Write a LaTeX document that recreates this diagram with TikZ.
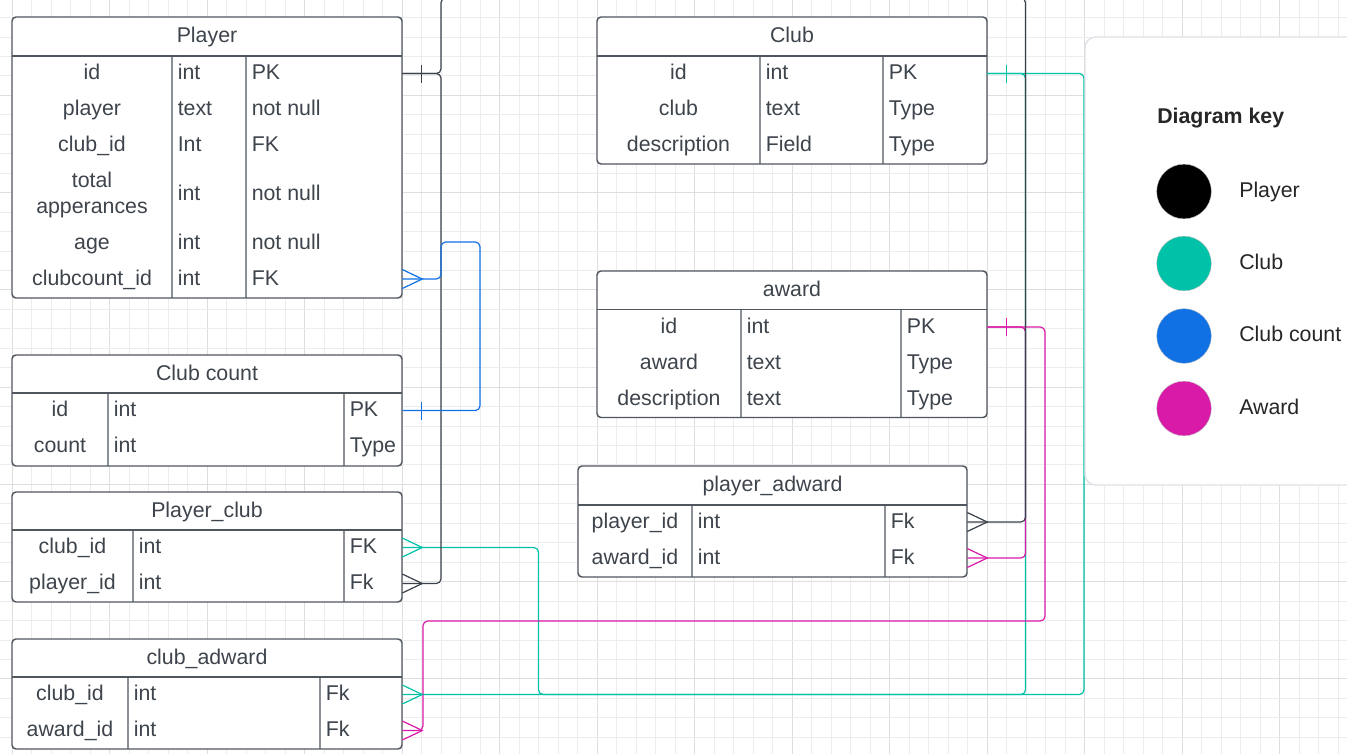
\documentclass[tikz,border=0pt]{standalone}
\usepackage{fontspec}
\setmainfont{Liberation Sans}
\usetikzlibrary{fit}
\definecolor{tealc}{RGB}{0,194,168}
\definecolor{bluec}{RGB}{16,113,229}
\definecolor{magc}{RGB}{217,26,168}
\definecolor{inkc}{RGB}{58,65,74}
\definecolor{txtc}{RGB}{62,68,76}
\definecolor{bordc}{RGB}{80,86,94}
\definecolor{colc}{RGB}{140,145,152}
\definecolor{gridmin}{RGB}{236,236,236}
\definecolor{gridmaj}{RGB}{222,222,222}
\definecolor{panelb}{RGB}{222,226,231}
\definecolor{keytxt}{RGB}{38,38,38}
\tikzset{
  cell/.style={inner sep=0pt, text height=11.5pt, text depth=2.5pt, text=txtc, font=\fontsize{16}{19.5}\selectfont},
  tbl/.style={draw=bordc, line width=1.1pt, rounded corners=3pt},
  colline/.style={draw=colc, line width=1.1pt},
  conn/.style={line width=0.9pt, rounded corners=3.5pt},
  tip/.style={line width=0.9pt},
  keylabel/.style={anchor=base west, inner sep=0pt, text=keytxt, font=\fontsize{16}{19.5}\selectfont},
  keydot/.style={circle, minimum size=41pt, inner sep=0pt, draw=black!25, line width=0.3pt},
}
\newcommand\ertable[9]{%
  \fill[white, rounded corners=3pt] (#2,#3) rectangle (#4,#5);
  \draw[colline] (#7,#6) -- (#7,#5);
  \draw[colline] (#8,#6) -- (#8,#5);
  \draw[tbl] (#2,#3) rectangle (#4,#5);
  \draw[bordc, line width=1.1pt] (#2,#6) -- (#4,#6);
  \node[fit={(#2,#3)(#4,#5)}, inner sep=0pt] (#1) {};
  \node[cell] (#1-t) at ({(#2+#4)/2},{(#3+#6)/2}) {#9};
}
\newcommand\errow[8]{%
  \node[cell] (#1) at (#3,#2) {#6};
  \node[cell, anchor=west] (#1-b) at ({#4+5.5},#2) {#7};
  \node[cell, anchor=west] (#1-c) at ({#5+5.5},#2) {#8};
}
\newcommand\crowR[2]{\draw[tip, #2] (#1) ++(0,-9.5) -- ++(20,9.5) -- ++(-20,9.5);}
\newcommand\oneR[2]{\draw[tip, #2] (#1) ++(19.5,-9) -- ++(0,18);}
\begin{document}
\begin{tikzpicture}[x=0.75pt,y=-0.75pt]
\useasboundingbox (0,0) rectangle (1347,754);
\clip (0,0) rectangle (1347,754);
\fill[white] (0,0) rectangle (1347,754);
% grid
\foreach \k in {0,...,68}{%
  \pgfmathsetmacro\gx{12.3+19.5*\k}%
  \pgfmathtruncatemacro\gm{mod(\k,5)}%
  \ifnum\gm=0 \draw[gridmaj, line width=0.75pt] (\gx,0) -- (\gx,754);
  \else \draw[gridmin, line width=0.75pt] (\gx,0) -- (\gx,754); \fi
}
\foreach \k in {0,...,37}{%
  \pgfmathsetmacro\gy{17.6+19.45*\k}%
  \pgfmathtruncatemacro\gm{mod(\k,5)}%
  \ifnum\gm=4 \draw[gridmaj, line width=0.75pt] (0,\gy) -- (1347,\gy);
  \else \draw[gridmin, line width=0.75pt] (0,\gy) -- (1347,\gy); \fi
}

% tables
\ertable{player}{12}{17}{402}{298}{56}{172}{246}{Player}
\errow{player-r1}{73.5}{92}{172}{246}{id}{int}{PK}
\errow{player-r2}{109.5}{92}{172}{246}{player}{text}{not null}
\errow{player-r3}{145.5}{92}{172}{246}{club\_id}{Int}{FK}
\node[inner sep=0pt, align=center, text=txtc, font=\fontsize{16}{19.5}\selectfont] (player-r4) at (92,194.5) {total\\apperances};
\node[cell, anchor=west] (player-r4-b) at (177.5,194.5) {int};
\node[cell, anchor=west] (player-r4-c) at (251.5,194.5) {not null};
\errow{player-r5}{243}{92}{172}{246}{age}{int}{not null}
\errow{player-r6}{279}{92}{172}{246}{clubcount\_id}{int}{FK}

\ertable{club}{597}{17}{987}{164}{56}{760}{883}{Club}
\errow{club-r1}{73.5}{678.5}{760}{883}{id}{int}{PK}
\errow{club-r2}{109.5}{678.5}{760}{883}{club}{text}{Type}
\errow{club-r3}{145.5}{678.5}{760}{883}{description}{Field}{Type}

\ertable{award}{597}{271}{987}{417.5}{309.5}{741}{901}{award}
\errow{award-r1}{327}{669}{741}{901}{id}{int}{PK}
\errow{award-r2}{363}{669}{741}{901}{award}{text}{Type}
\errow{award-r3}{399}{669}{741}{901}{description}{text}{Type}

\ertable{ccount}{12}{355}{402}{466}{393}{108}{344}{Club count}
\errow{ccount-r1}{410.5}{60}{108}{344}{id}{int}{PK}
\errow{ccount-r2}{446.5}{60}{108}{344}{count}{int}{Type}

\ertable{pclub}{12}{492}{402}{602}{530}{133}{344}{Player\_club}
\errow{pclub-r1}{547.5}{72.5}{133}{344}{club\_id}{int}{FK}
\errow{pclub-r2}{583.5}{72.5}{133}{344}{player\_id}{int}{Fk}

\ertable{cadw}{12}{639}{402}{749}{677}{128}{320}{club\_adward}
\errow{cadw-r1}{694.5}{70}{128}{320}{club\_id}{int}{Fk}
\errow{cadw-r2}{730.5}{70}{128}{320}{award\_id}{int}{Fk}

\ertable{padw}{578}{466}{967}{577}{505}{692}{885}{player\_adward}
\errow{padw-r1}{522}{635}{692}{885}{player\_id}{int}{Fk}
\errow{padw-r2}{558}{635}{692}{885}{award\_id}{int}{Fk}

% connector end points
\coordinate (e-pid) at (player.east |- player-r1);
\coordinate (e-pcc) at (player.east |- player-r6);
\coordinate (e-club1) at (club.east |- club-r1);
\coordinate (e-aw1) at (award.east |- award-r1);
\coordinate (e-cc1) at (ccount.east |- ccount-r1);
\coordinate (e-pc1) at (pclub.east |- pclub-r1);
\coordinate (e-pc2) at (pclub.east |- pclub-r2);
\coordinate (e-ca1) at (cadw.east |- cadw-r1);
\coordinate (e-ca2) at (cadw.east |- cadw-r2);
\coordinate (e-pw1) at (padw.east |- padw-r1);
\coordinate (e-pw2) at (padw.east |- padw-r2);
% rails
\coordinate (railA) at (441,0);
\coordinate (railB) at (480,0);
\coordinate (railC) at (1025.5,0);
\coordinate (railD) at (1045,0);
\coordinate (railE) at (1084,0);
\coordinate (railF) at (538.5,0);
\coordinate (railG) at (423,0);
\coordinate (topH) at (0,-2);
\coordinate (blueH) at (0,242);
\coordinate (magH) at (0,621);

% teal connectors
\draw[conn, tealc] (e-club1) -- (railE |- e-club1) -- (railE |- e-ca1) -- (railF |- e-ca1) -- (railF |- e-pc1) -- (e-pc1);
\draw[conn, tealc] (e-club1) -- (railC |- e-club1) -- (railC |- e-ca1) -- (e-ca1);
% magenta connectors
\draw[conn, magc] (e-aw1) -- (railC |- e-aw1) -- (railC |- e-pw2) -- (e-pw2);
\draw[conn, magc] (e-aw1) -- (railD |- e-aw1) -- (railD |- magH) -- (railG |- magH) -- (railG |- e-ca2) -- (e-ca2);
% black connectors
\draw[conn, inkc] (e-pid) -- (railA |- e-pid) -- (railA |- topH) -- (railC |- topH) -- (railC |- e-pw1) -- (e-pw1);
\draw[conn, inkc] (e-pid) -- (railA |- e-pid) -- (railA |- e-pc2) -- (e-pc2);
% blue connector
\draw[conn, bluec] (e-cc1) -- (railB |- e-cc1) -- (railB |- blueH) -- (railA |- blueH) -- (railA |- e-pcc) -- (e-pcc);

% ends
\oneR{e-pid}{inkc}
\oneR{e-cc1}{bluec}
\oneR{e-club1}{tealc}
\oneR{e-aw1}{magc}
\crowR{e-pcc}{bluec}
\crowR{e-pc1}{tealc}
\crowR{e-pc2}{inkc}
\crowR{e-ca1}{tealc}
\crowR{e-ca2}{magc}
\crowR{e-pw1}{inkc}
\crowR{e-pw2}{magc}

% key panel
\draw[panelb, fill=white, line width=1.1pt, rounded corners=8pt] (1085,37) rectangle (1380,485);
\node[anchor=base west, inner sep=0pt, text=keytxt, font=\bfseries\fontsize{16}{19.5}\selectfont] (keytitle) at (1157,123.5) {Diagram key};
\node[keydot, fill=black] (k1) at (1184,191.5) {};
\node[keydot, fill=tealc] (k2) at (1184,263.5) {};
\node[keydot, fill=bluec] (k3) at (1184,336) {};
\node[keydot, fill=magc] (k4) at (1184,408.5) {};
\node[keylabel] (k1l) at (1239,197) {Player};
\node[keylabel] (k2l) at (1239,269.5) {Club};
\node[keylabel] (k3l) at (1239,341.5) {Club count};
\node[keylabel] (k4l) at (1239,414) {Award};
\end{tikzpicture}
\end{document}
